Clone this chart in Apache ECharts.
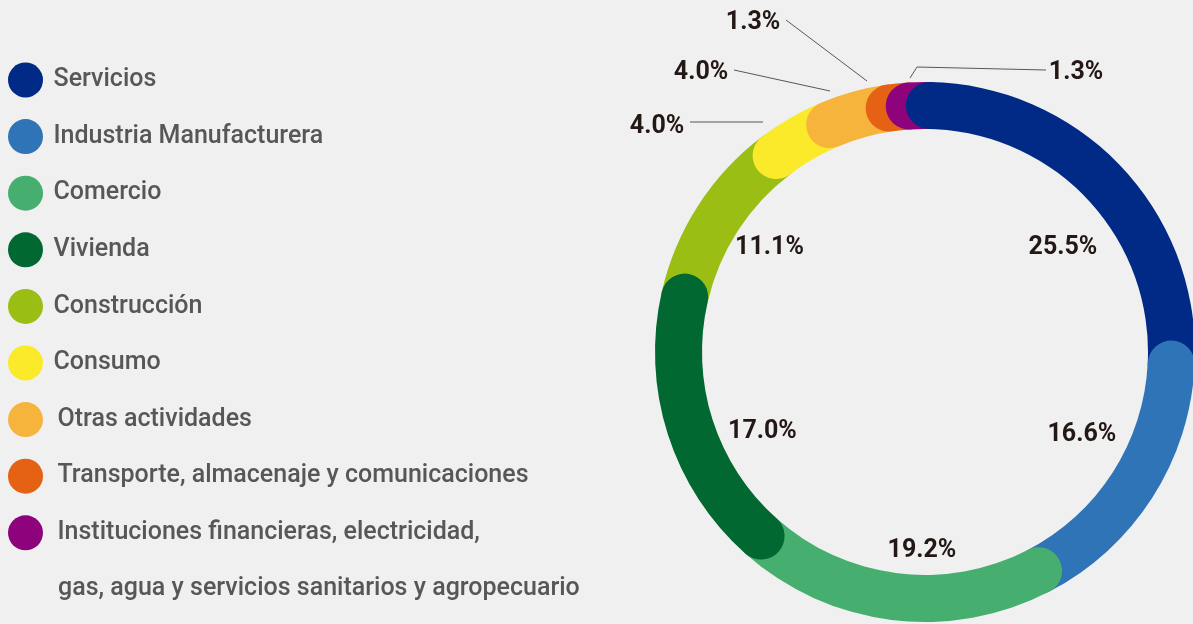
<!DOCTYPE html>
<html>
<head>
<meta charset="UTF-8">
<title></title>
<style>html,body{margin:0;padding:0;background:#eff0ef;}#charts{width:1193px;height:624px;}</style>
</head>
<body>
<div id="charts"></div>
<script src="https://cdn.jsdelivr.net/npm/echarts@6/dist/echarts.min.js"></script>
<script>
var mycharts = echarts.init(document.getElementById('charts'));

// sectores y participación (%)
var categories = ['Servicios', 'Industria Manufacturera', 'Comercio', 'Vivienda', 'Construcción', 'Consumo',
    'Otras actividades', 'Transporte, almacenaje y comunicaciones',
    'Instituciones financieras, electricidad,\ngas, agua y servicios sanitarios y agropecuario'];
var values = [25.5, 16.6, 19.2, 17.0, 11.1, 4.0, 4.0, 1.3, 1.3];
var colors = ['#002a86', '#2e74b7', '#46ae6e', '#006830', '#9bbe14', '#fbea2a', '#f6b43d', '#e56215', '#8e037b'];

// orden de dibujo: el que tiene z mayor tapa con su extremo redondo al vecino
var stackZ = [7, 8, 9, 10, 2, 3, 4, 5, 6];
// pequeños ajustes de las etiquetas interiores
var innerNudge = {0: [8, 17], 1: [7, -13], 2: [19, 22], 3: [7, 26], 4: [-6, -8]};
// etiquetas exteriores con su línea guía
var outerLabels = {
    5: {at: [657, 127], line: [[763, 122], [763, 122], [690, 122]]},
    6: {at: [701, 73], line: [[830, 91], [830, 91], [734, 70]]},
    7: {at: [753, 23], line: [[867, 81], [867, 81], [786, 20]]},
    8: {at: [1076, 73], line: [[910, 78], [917, 67], [1046, 70]]}
};

var CENTER = [925, 352];
var pct = function (p) { return p.value.toFixed(1) + '%'; };
var labelFont = {fontFamily: 'Roboto', fontWeight: 'bold', fontSize: 25, color: '#231815'};
var legendColor = '#575757';

var ringSeries = categories.map(function (name, i) {
    return {
        type: 'bar',
        name: name,
        coordinateSystem: 'polar',
        stack: 'ring',
        roundCap: true,
        barCategoryGap: '0%',
        z: stackZ[i],
        silent: true,
        itemStyle: {color: colors[i]},
        data: [values[i]]
    };
});

option = {
    backgroundColor: '#eff0ef',
    animation: false,
    polar: {center: CENTER, radius: [223, 270]},
    angleAxis: {type: 'value', min: 0, max: 100, startAngle: 89, clockwise: true, show: false},
    radiusAxis: {type: 'category', data: ['total'], show: false},
    legend: {
        orient: 'vertical',
        left: 3,
        top: 57.5,
        icon: 'circle',
        itemWidth: 46,
        itemHeight: 35,
        itemGap: 21.6,
        selectedMode: false,
        textStyle: {fontFamily: 'Roboto', fontWeight: 500, fontSize: 25, color: legendColor},
        formatter: function (name) { return name.split('\n')[0]; },
        data: categories.map(function (name, i) {
            return i >= 6 ? {name: name, textStyle: {padding: [0, 0, 0, 4]}} : {name: name};
        })
    },
    graphic: [{
        type: 'text',
        x: 58,
        y: 589,
        style: {
            text: categories[8].split('\n')[1],
            font: '500 25px Roboto',
            fill: legendColor,
            verticalAlign: 'middle'
        }
    }],
    series: ringSeries.concat([
        {
            // etiquetas dentro del anillo
            type: 'pie',
            silent: true,
            center: CENTER,
            radius: [0, 350],
            startAngle: 89,
            z: 20,
            itemStyle: {color: 'rgba(0,0,0,0)'},
            label: Object.assign({position: 'inside', formatter: pct}, labelFont),
            labelLine: {show: false},
            labelLayout: function (p) {
                var n = innerNudge[p.dataIndex];
                return n ? {dx: n[0], dy: n[1]} : {};
            },
            data: values.map(function (v, i) {
                return {name: categories[i], value: v, label: {show: v >= 10}};
            })
        },
        {
            // etiquetas de los sectores pequeños
            type: 'pie',
            silent: true,
            center: CENTER,
            radius: [223, 270],
            startAngle: 89,
            z: 20,
            itemStyle: {color: 'rgba(0,0,0,0)'},
            label: Object.assign({position: 'outside', formatter: pct}, labelFont),
            labelLine: {show: true, lineStyle: {color: '#595757', width: 1}},
            labelLayout: function (p) {
                var o = outerLabels[p.dataIndex];
                if (!o) return {};
                return {x: o.at[0], y: o.at[1], align: 'center', verticalAlign: 'middle', labelLinePoints: o.line};
            },
            data: values.map(function (v, i) {
                return {name: categories[i], value: v, label: {show: v < 10}, labelLine: {show: v < 10}};
            })
        }
    ])
};
mycharts.setOption(option);
</script>
</body>
</html>
